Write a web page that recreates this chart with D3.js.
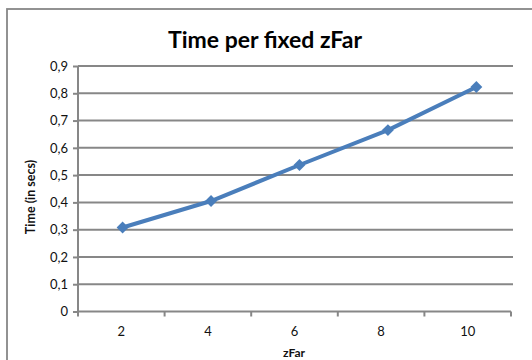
<!DOCTYPE html>
<html><head><meta charset="utf-8">
<script src="https://cdn.jsdelivr.net/npm/d3@7"></script>
<style>body{margin:0;background:#fff}svg{display:block}text{font-family:Lato,"Open Sans",sans-serif}</style>
</head><body><svg id="c" width="532" height="360"></svg>
<script>
const categories = ["2","4","6","8","10"];
const values = [0.308, 0.405, 0.537, 0.665, 0.823];
const yTicks = [0,0.1,0.2,0.3,0.4,0.5,0.6,0.7,0.8,0.9];
const title = "Time per fixed zFar";
const xTitle = "zFar";
const yTitle = "Time (in secs)";

const svg = d3.select("#c");
const L = 78, R = 511, T = 66, B = 311.5;
const gray = "#878787";

svg.append("rect").attr("x",7).attr("y",9).attr("width",540).attr("height",360)
  .attr("fill","none").attr("stroke",gray).attr("stroke-width",1.8);

const x = d3.scaleBand().domain(categories).range([L,R]);
const xp = d3.scalePoint().domain(categories).range([L+0.103*(R-L), L+0.920*(R-L)]);
const y = d3.scaleLinear().domain([0,0.9]).range([B,T]);
const fmt = d => d === 0 ? "0" : d3.format(".1f")(d).replace(".", ",");

// gridlines
svg.append("g").selectAll("line").data(yTicks.slice(1)).join("line")
  .attr("x1",L).attr("x2",R+2).attr("y1",d=>y(d)).attr("y2",d=>y(d))
  .attr("stroke",gray).attr("stroke-width",2);

// y axis
const ya = svg.append("g").attr("transform",`translate(${L},0)`)
  .call(d3.axisLeft(y).tickValues(yTicks).tickSize(5).tickPadding(5).tickFormat(fmt));
ya.select(".domain").attr("stroke",gray).attr("stroke-width",2).attr("d",`M0,${T}V${B}`);
ya.selectAll(".tick line").attr("stroke",gray).attr("stroke-width",2);
ya.selectAll(".tick text").attr("font-size",13).attr("fill","#111");

// x axis
const xa = svg.append("g").attr("transform",`translate(0,${B})`)
  .call(d3.axisBottom(x).tickSize(0).tickPadding(15));
xa.select(".domain").attr("stroke",gray).attr("stroke-width",2).attr("d",`M${L},0H${R}`);
xa.selectAll(".tick text").attr("font-size",13).attr("fill","#111");
xa.selectAll(".bt").data(categories.concat(["end"])).join("line")
  .attr("x1",(d,i)=>L+i*x.step()).attr("x2",(d,i)=>L+i*x.step())
  .attr("y1",0).attr("y2",5).attr("stroke",gray).attr("stroke-width",2);

// line
const pts = categories.map((c,i)=>[xp(c), y(values[i])]);
svg.append("path").attr("d",d3.line()(pts)).attr("fill","none")
  .attr("stroke","#4a7ebb").attr("stroke-width",4).attr("stroke-linejoin","round");
svg.append("g").selectAll("path").data(pts).join("path")
  .attr("transform",d=>`translate(${d[0]},${d[1]})`)
  .attr("d",d3.symbol(d3.symbolDiamond2,90)).attr("fill","#4a7ebb");

svg.append("text").attr("x",265).attr("y",48).attr("text-anchor","middle")
  .attr("font-size",23).attr("font-weight","bold").attr("fill","#000").text(title);
svg.append("text").attr("x",294).attr("y",357).attr("text-anchor","middle")
  .attr("font-size",12).attr("font-weight","bold").attr("fill","#111").text(xTitle);
svg.append("text").attr("transform","translate(35,197) rotate(-90)").attr("text-anchor","middle")
  .attr("font-size",12.5).attr("font-weight","bold").attr("fill","#111").text(yTitle);
</script></body></html>
